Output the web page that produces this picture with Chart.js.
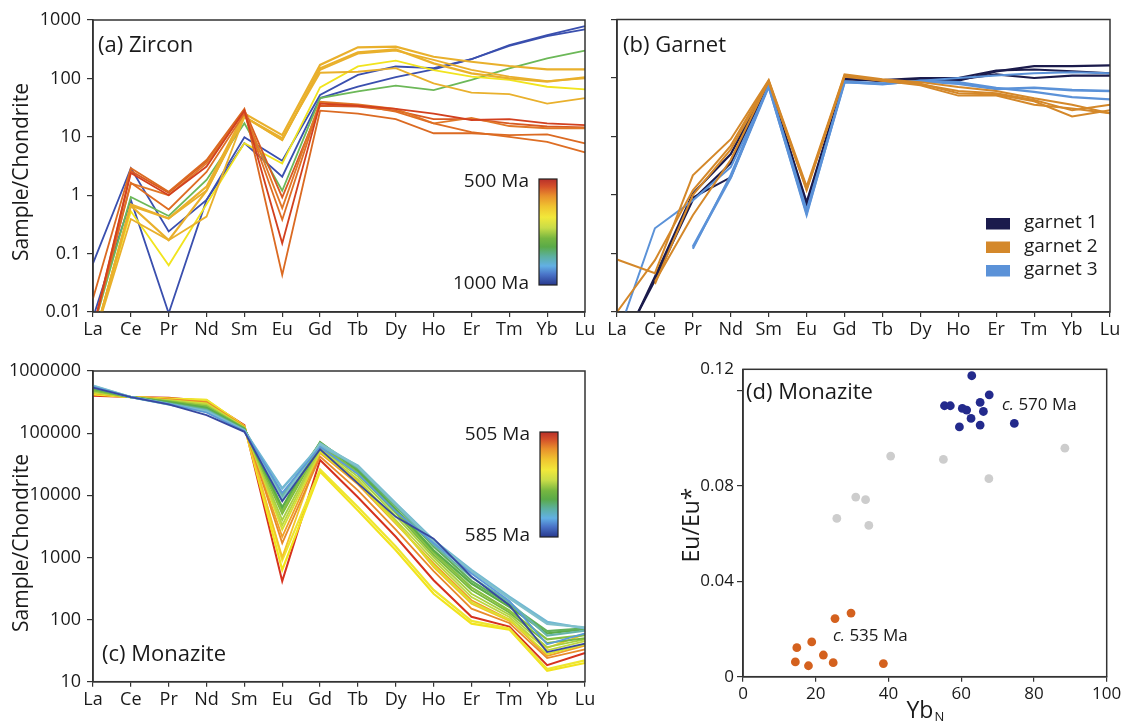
<!DOCTYPE html>
<html><head><meta charset="utf-8">
<script src="https://cdn.jsdelivr.net/npm/chart.js@4"></script>
<style>
html,body{margin:0;padding:0;background:#fff;}
#wrap{position:relative;width:1124px;height:724px;overflow:hidden;background:#fff;}
canvas{position:absolute;}
</style></head><body>
<div id="wrap">
<canvas id="ca" style="left:0;top:0" width="600" height="345"></canvas>
<canvas id="cb" style="left:600px;top:0" width="524" height="345"></canvas>
<canvas id="cc" style="left:0;top:350px" width="600" height="374"></canvas>
<canvas id="cd" style="left:680px;top:350px" width="444" height="374"></canvas>
</div>
<script>
// ---------- categories & ticks ----------
const REE = ['La','Ce','Pr','Nd','Sm','Eu','Gd','Tb','Dy','Ho','Er','Tm','Yb','Lu'];
const ticksAB = [0.01, 0.1, 1, 10, 100, 1000];
const labelsAB = ['0.01', '0.1', '1', '10', '100', '1000'];
const ticksC = [10, 100, 1000, 10000, 100000, 1000000];
const labelsC = ['10', '100', '1000', '10000', '100000', '1000000'];
const ticksDY = [0, 0.04, 0.08, 0.12];
const labelsDY = ['0', '0.04', '0.08', '0.12'];
const ticksDX = [0, 20, 40, 60, 80, 100];
const yTitleAC = 'Sample/Chondrite';
const yTitleD = 'Eu/Eu*';

// ---------- (a) zircon ----------
const zrnBlue1   = [0.068, 2.9, 0.24, 0.83, 9.8, 3.9, 52, 115, 160, 150, 213, 373, 553, 789];
const zrnBlue2   = [0.008, 0.83, 0.0095, 0.83, 7.8, 2.07, 46, 72, 105, 143, 213, 360, 530, 693];
const zrnGreen   = [0.005, 0.93, 0.44, 1.82, 17, 1.19, 46, 60, 75, 63, 94, 149, 220, 298];
const zrnYellow  = [0.003, 0.53, 0.063, 0.7, 7.8, 3.5, 70, 160, 201, 139, 107, 94, 72, 65];
const zrnGold1   = [0.003, 0.66, 0.40, 1.4, 25, 10.7, 170, 340, 349, 235, 193, 163, 143, 143];
const zrnGold2   = [0.003, 0.66, 0.17, 1.2, 22, 8.8, 149, 280, 314, 181, 122, 100, 88, 104];
const zrnGold3   = [0.003, 0.39, 0.17, 0.43, 22, 8.8, 140, 265, 300, 207, 140, 107, 90, 100];
const zrnGold4   = [0.003, 0.7, 0.4, 1.2, 22, 9.5, 125, 130, 150, 82, 57, 54, 37, 46];
const zrnRed1    = [0.005, 2.4, 1.0, 3.1, 28, 0.15, 37, 34, 30, 25, 19.4, 20, 17, 15.8];
const zrnRed2    = [0.017, 2.9, 1.15, 4.0, 30, 0.043, 28, 25, 20, 11.5, 11.5, 10.7, 11, 7.7];
const zrnRed3    = [0.005, 1.64, 0.57, 2.5, 25, 0.38, 38, 35, 27, 17, 12, 10, 8.2, 5.4];
const zrnRed4    = [0.005, 1.6, 1.0, 3.5, 27, 0.6, 40, 36, 30, 17, 21, 15.3, 14, 14];
const zrnRed5    = [0.005, 2.6, 1.1, 3.8, 29, 0.92, 34, 33, 28, 20, 20, 17, 15, 14.5];

// ---------- (b) garnet ----------
const grt1a = [0.0017, 0.04, 1.06, 5, 85, 0.75, 100, 88, 95, 90, 130, 160, 160, 165];
const grt1b = [0.002, 0.035, 0.83, 3.5, 80, 0.7, 95, 90, 95, 95, 115, 100, 110, 110];
const grt1c = [null, null, 0.9, 2.0, 75, 0.65, 100, 92, 100, 100, 135, 140, 130, 120];
const grt2a = [0.079, 0.046, 2.17, 9, 92, 1.4, 115, 95, 85, 70, 60, 45, 35, 25];
const grt2b = [0.01, 0.077, 1.2, 7, 90, 1.3, 110, 92, 80, 55, 52, 40, 22, 28];
const grt2c = [null, 0.033, 0.45, 4, 88, 1.2, 110, 90, 75, 50, 50, 35, 30, 25];
const grt2d = [null, 0.03, 1.0, 6, 85, 1.25, 105, 90, 78, 60, 55, 42, 28, 35];
const grt3a = [0.0037, 0.27, 0.81, 3, 70, 0.45, 88, 80, 90, 100, 110, 120, 125, 120];
const grt3b = [null, null, 0.13, 2, 72, 0.5, 85, 80, 88, 80, 65, 68, 62, 60];
const grt3c = [null, null, 0.12, 2.2, 75, 0.55, 86, 78, 90, 85, 68, 58, 47, 43];
const garnetNames = ['garnet 1', 'garnet 2', 'garnet 3'];

// ---------- (c) monazite ----------
const mnzCyan    = [580000, 380000, 290000, 225000, 110000, 12900, 63000, 30000, 7400, 1900, 630, 233, 92, 72];
const mnzCyan2   = [570000, 380000, 292000, 220000, 110000, 8600, 68000, 29000, 7200, 1800, 600, 220, 85, 75];
const mnzLtBlue  = [560000, 380000, 295000, 215000, 108000, 11000, 60000, 22000, 5500, 1700, 550, 200, 40, 60];
const mnzBlue    = [540000, 380000, 290000, 195000, 105000, 8000, 55000, 15500, 4500, 2000, 490, 170, 30, 41];
const mnzTeal    = [550000, 380000, 300000, 235000, 112000, 10000, 66000, 28000, 7000, 1600, 480, 190, 55, 66];
const mnzGreen1  = [530000, 380000, 305000, 245000, 115000, 9400, 70000, 27000, 6800, 1500, 420, 175, 65, 72];
const mnzGreen2  = [520000, 380000, 315000, 255000, 117000, 6400, 72000, 25000, 6000, 1300, 380, 160, 60, 70];
const mnzGreen3  = [500000, 380000, 320000, 265000, 118000, 5500, 65000, 23000, 5600, 1200, 330, 140, 48, 56];
const mnzGreen4  = [490000, 380000, 325000, 270000, 120000, 5000, 62000, 22000, 5200, 1100, 300, 130, 42, 50];
const mnzYG1     = [470000, 380000, 330000, 280000, 120000, 4000, 58000, 20000, 4600, 1000, 260, 120, 36, 48];
const mnzYG2     = [460000, 380000, 335000, 290000, 122000, 3300, 55000, 18000, 4000, 900, 230, 110, 32, 45];
const mnzYG3     = [450000, 380000, 340000, 300000, 124000, 2800, 50000, 16000, 3600, 750, 190, 100, 28, 40];
const mnzOrange1 = [450000, 380000, 345000, 310000, 126000, 2150, 48000, 15000, 3500, 800, 205, 100, 26, 38];
const mnzOrange2 = [445000, 380000, 350000, 315000, 128000, 1700, 42000, 12000, 2800, 600, 150, 88, 24, 33];
const mnzGold    = [440000, 380000, 350000, 320000, 127000, 1000, 52000, 17000, 3800, 700, 180, 95, 35, 58];
const mnzYellow1 = [430000, 380000, 355000, 340000, 128000, 900, 26000, 6500, 1500, 300, 95, 72, 16, 22];
const mnzYellow2 = [420000, 380000, 360000, 345000, 130000, 630, 24000, 5700, 1300, 260, 86, 69, 15, 20];
const mnzRed     = [400000, 380000, 370000, 330000, 135000, 415, 37000, 9300, 2150, 430, 111, 77, 18.5, 29];

// ---------- (d) monazite Eu/Eu* vs YbN ----------
const greyYb = [40.6, 55.1, 88.5, 67.6, 31.0, 33.7, 25.8, 34.6];
const greyEu = [0.0926, 0.0912, 0.0959, 0.0831, 0.0754, 0.0743, 0.0664, 0.0635];
const old570Yb = [62.9, 67.7, 55.4, 57.0, 65.2, 60.3, 61.5, 66.1, 62.7, 59.5, 65.2, 74.6];
const old570Eu = [0.1263, 0.1183, 0.1137, 0.1137, 0.1151, 0.1126, 0.1119, 0.1113, 0.1084, 0.1048, 0.1056, 0.1063];
const young535Yb = [29.7, 25.3, 18.9, 14.8, 22.1, 14.4, 24.8, 18.0, 38.6];
const young535Eu = [0.0267, 0.0244, 0.0146, 0.0122, 0.0091, 0.0062, 0.0059, 0.0046, 0.0055];

// ---------- styling helpers ----------
const FONT = "'Open Sans', 'Noto Sans', sans-serif";
Chart.defaults.font.family = FONT;
Chart.defaults.color = '#1a1a1a';
const AXIS = '#333';

function line(data, color, width) {
  return { data, borderColor: color, borderWidth: width || 1.8, pointRadius: 0, tension: 0, fill: false, spanGaps: false };
}
function pts(xs, ys) { return xs.map((x, i) => ({ x, y: ys[i] })); }

function catX(h) {
  return {
    type: 'category', labels: REE, offset: false,
    grid: { display: true, drawOnChartArea: false, drawTicks: true, tickLength: 5, color: AXIS, lineWidth: 1.2 },
    border: { display: true, color: AXIS, width: 1.5 },
    ticks: { font: { size: 18 }, padding: 2, maxRotation: 0, autoSkip: false, color: '#1a1a1a' },
    afterFit(s) { s.height = h; }
  };
}
function logY(tv, tl, min, max, w, showLabels) {
  return {
    type: 'logarithmic', min, max,
    afterBuildTicks(s) { s.ticks = tv.map(v => ({ value: v })); },
    grid: { display: true, drawOnChartArea: false, drawTicks: true, tickLength: 6, color: AXIS, lineWidth: 1.2 },
    border: { display: true, color: AXIS, width: 1.5 },
    ticks: { display: showLabels, font: { size: 18 }, padding: 6, color: '#1a1a1a', callback: (v, i) => tl[i] },
    afterFit(s) { s.width = w; }
  };
}
function deco(draw) {
  return {
    id: 'deco',
    afterDraw(chart) {
      const { ctx, chartArea: a } = chart;
      ctx.save();
      ctx.strokeStyle = AXIS; ctx.lineWidth = 1.5;
      ctx.strokeRect(a.left, a.top, a.right - a.left, a.bottom - a.top);
      ctx.fillStyle = '#1a1a1a';
      ctx.textBaseline = 'middle';
      draw(ctx, chart);
      ctx.restore();
    }
  };
}
function vTitle(ctx, text, x, y, size) {
  ctx.save();
  ctx.translate(x, y); ctx.rotate(-Math.PI / 2);
  ctx.font = size + 'px ' + FONT; ctx.textAlign = 'center'; ctx.textBaseline = 'middle';
  ctx.fillStyle = '#1a1a1a'; ctx.fillText(text, 0, 0);
  ctx.restore();
}
function colorbar(ctx, x, y, w, h, top, bottom) {
  const g = ctx.createLinearGradient(0, y, 0, y + h);
  const stops = [[0, '#b8302a'], [0.07, '#d4502a'], [0.16, '#e8902c'], [0.26, '#f0c430'], [0.36, '#f2e83a'],
    [0.46, '#c8dc48'], [0.56, '#76b640'], [0.64, '#5aaa48'], [0.73, '#5cb0a0'], [0.82, '#62b0e4'],
    [0.9, '#4a74c8'], [1, '#28388e']];
  stops.forEach(s => g.addColorStop(s[0], s[1]));
  ctx.fillStyle = g; ctx.fillRect(x, y, w, h);
  ctx.strokeStyle = '#222'; ctx.lineWidth = 1.2; ctx.strokeRect(x, y, w, h);
  ctx.fillStyle = '#1a1a1a';
  ctx.font = '19px ' + FONT; ctx.textAlign = 'right';
  ctx.fillText(top, x - 10, y + 3);
  ctx.fillText(bottom, x - 10, y + h - 1);
  ctx.textAlign = 'left';
}
const base = (padding) => ({
  responsive: false, animation: false, devicePixelRatio: 1, events: [],
  layout: { padding },
  plugins: { legend: { display: false }, tooltip: { enabled: false } }
});

// ---------- (a) ----------
const cBlue = '#3a4fae', cGreen = '#6cb858', cYellow = '#f1e41e', cGold = '#e9b02c';
new Chart(document.getElementById('ca'), {
  type: 'line',
  data: { labels: REE, datasets: [
    line(zrnRed1, '#d2401f'), line(zrnRed2, '#db6a22'), line(zrnRed3, '#de6e24'), line(zrnRed4, '#e07828'), line(zrnRed5, '#d85a22'),
    line(zrnGold4, cGold), line(zrnGold3, cGold), line(zrnGold2, cGold, 2.2), line(zrnGold1, cGold, 2.2),
    line(zrnYellow, cYellow), line(zrnGreen, cGreen), line(zrnBlue2, cBlue), line(zrnBlue1, cBlue)
  ]},
  options: Object.assign(base({ top: 20, right: 15, left: 0, bottom: 0 }), {
    scales: { x: catX(33), y: logY(ticksAB, labelsAB, 0.01, 1000, 93, true) }
  }),
  plugins: [deco((ctx) => {
    vTitle(ctx, yTitleAC, 22, 172, 21);
    ctx.font = '22px ' + FONT; ctx.fillText('(a) Zircon', 98, 46);
    colorbar(ctx, 539, 179, 18, 106, '500 Ma', '1000 Ma');
  })]
});

// ---------- (b) ----------
const g1 = '#1b1b4c', g2 = '#d4882a', g3 = '#5b92d8';
const garnetColors = [g1, g2, g3];
new Chart(document.getElementById('cb'), {
  type: 'line',
  data: { labels: REE, datasets: [
    line(grt2a, g2, 2), line(grt2b, g2, 2), line(grt2c, g2, 2), line(grt2d, g2, 2),
    line(grt3a, g3, 2), line(grt3b, g3, 2.6), line(grt3c, g3, 2.2),
    line(grt1a, g1, 2.2), line(grt1b, g1, 2.2), line(grt1c, g1, 2)
  ]},
  options: Object.assign(base({ top: 19.5, right: 14, left: 0, bottom: 0 }), {
    scales: { x: catX(33), y: logY(ticksAB, labelsAB, 0.01, 1000, 17, false) }
  }),
  plugins: [deco((ctx) => {
    ctx.font = '22px ' + FONT; ctx.fillText('(b) Garnet', 23, 46);
    ctx.font = '19px ' + FONT;
    garnetNames.forEach((n, i) => {
      const y = 218 + i * 23.5;
      ctx.fillStyle = garnetColors[i]; ctx.fillRect(386, y, 24, 11.5);
      ctx.fillStyle = '#1a1a1a'; ctx.fillText(n, 424, y + 5);
    });
  })]
});

// ---------- (c) ----------
new Chart(document.getElementById('cc'), {
  type: 'line',
  data: { labels: REE, datasets: [
    line(mnzBlue, '#3848a0'), line(mnzLtBlue, '#5c9ad8'), line(mnzCyan2, '#80c0cc', 2.4), line(mnzCyan, '#72b8d2', 2.4),
    line(mnzTeal, '#68b4a8', 2.2), line(mnzGreen1, '#62b05c', 2.2), line(mnzGreen2, '#5aac48', 2.2), line(mnzGreen3, '#86c042', 2.2),
    line(mnzGreen4, '#78b840'), line(mnzYG1, '#a8d040'), line(mnzYG2, '#bcd640'), line(mnzYG3, '#d8e030'),
    line(mnzOrange2, '#e88a2a'), line(mnzOrange1, '#f0a028'), line(mnzGold, '#f3c42a'),
    line(mnzYellow1, '#eee630', 2.2), line(mnzYellow2, '#f2e41c', 2.2), line(mnzRed, '#d6321e', 2)
  ]},
  options: Object.assign(base({ top: 21, right: 15, left: 0, bottom: 0 }), {
    scales: { x: catX(42.3), y: logY(ticksC, labelsC, 10, 1000000, 93, true) }
  }),
  plugins: [deco((ctx) => {
    vTitle(ctx, yTitleAC, 22, 193, 21);
    ctx.font = '22px ' + FONT; ctx.fillText('(c) Monazite', 102, 305);
    colorbar(ctx, 540, 82, 18, 105, '505 Ma', '585 Ma');
  })]
});

// ---------- (d) ----------
const DMAX = 0.129;
new Chart(document.getElementById('cd'), {
  type: 'scatter',
  data: { datasets: [
    { data: pts(greyYb, greyEu), backgroundColor: '#cdcdcd', pointRadius: 4.4, borderWidth: 0 },
    { data: pts(old570Yb, old570Eu), backgroundColor: '#232a8c', pointRadius: 4.4, borderWidth: 0 },
    { data: pts(young535Yb, young535Eu), backgroundColor: '#d4611e', pointRadius: 4.4, borderWidth: 0 }
  ]},
  options: Object.assign(base({ top: 19.3, right: 17.3, left: 0, bottom: 0 }), {
    scales: {
      x: {
        type: 'linear', min: 0, max: 100,
        afterBuildTicks(s) { s.ticks = ticksDX.map(v => ({ value: v })); },
        grid: { display: true, drawOnChartArea: false, drawTicks: true, tickLength: 5, color: AXIS, lineWidth: 1.2 },
        border: { display: true, color: AXIS, width: 1.5 },
        ticks: { font: { size: 17 }, padding: 2, color: '#1a1a1a', maxRotation: 0, callback: (v) => String(v) },
        afterFit(s) { s.height = 47.3; }
      },
      y: {
        type: 'linear', min: 0, max: DMAX,
        afterBuildTicks(s) { s.ticks = ticksDY.map(v => ({ value: v })).concat([{ value: DMAX }]); },
        grid: { display: true, drawOnChartArea: false, drawTicks: true, tickLength: 6, lineWidth: 1.2,
          color: (c) => (c.tick && c.tick.value > 0.125) ? 'rgba(0,0,0,0)' : AXIS },
        border: { display: true, color: AXIS, width: 1.5 },
        ticks: { font: { size: 17 }, padding: 3, color: '#1a1a1a',
          callback: (v, i) => i < 3 ? labelsDY[i] : (i === 3 ? '' : labelsDY[3]) },
        afterFit(s) { s.width = 63; }
      }
    }
  }),
  plugins: [deco((ctx, chart) => {
    vTitle(ctx, yTitleD, 12, 175, 23);
    ctx.font = '22px ' + FONT; ctx.fillText('(d) Monazite', 66, 43);
    const lab = (x, y, rest) => {
      ctx.font = 'italic 17px ' + FONT; ctx.fillText('c.', x, y);
      const w = ctx.measureText('c.').width;
      ctx.font = '17px ' + FONT; ctx.fillText(rest, x + w, y);
    };
    lab(322, 55, ' 570 Ma');
    lab(153, 286, ' 535 Ma');
    // x-axis title Yb with subscript N
    ctx.textBaseline = 'alphabetic';
    ctx.font = '23px ' + FONT;
    const wYb = ctx.measureText('Yb').width;
    ctx.font = '13px ' + FONT;
    const wN = ctx.measureText('N').width;
    const cx = (chart.chartArea.left + chart.chartArea.right) / 2;
    const x0 = cx - (wYb + wN) / 2;
    ctx.font = '23px ' + FONT; ctx.fillText('Yb', x0, 368);
    ctx.font = '13px ' + FONT; ctx.fillText('N', x0 + wYb + 1, 371);
  })]
});
</script>
</body></html>
